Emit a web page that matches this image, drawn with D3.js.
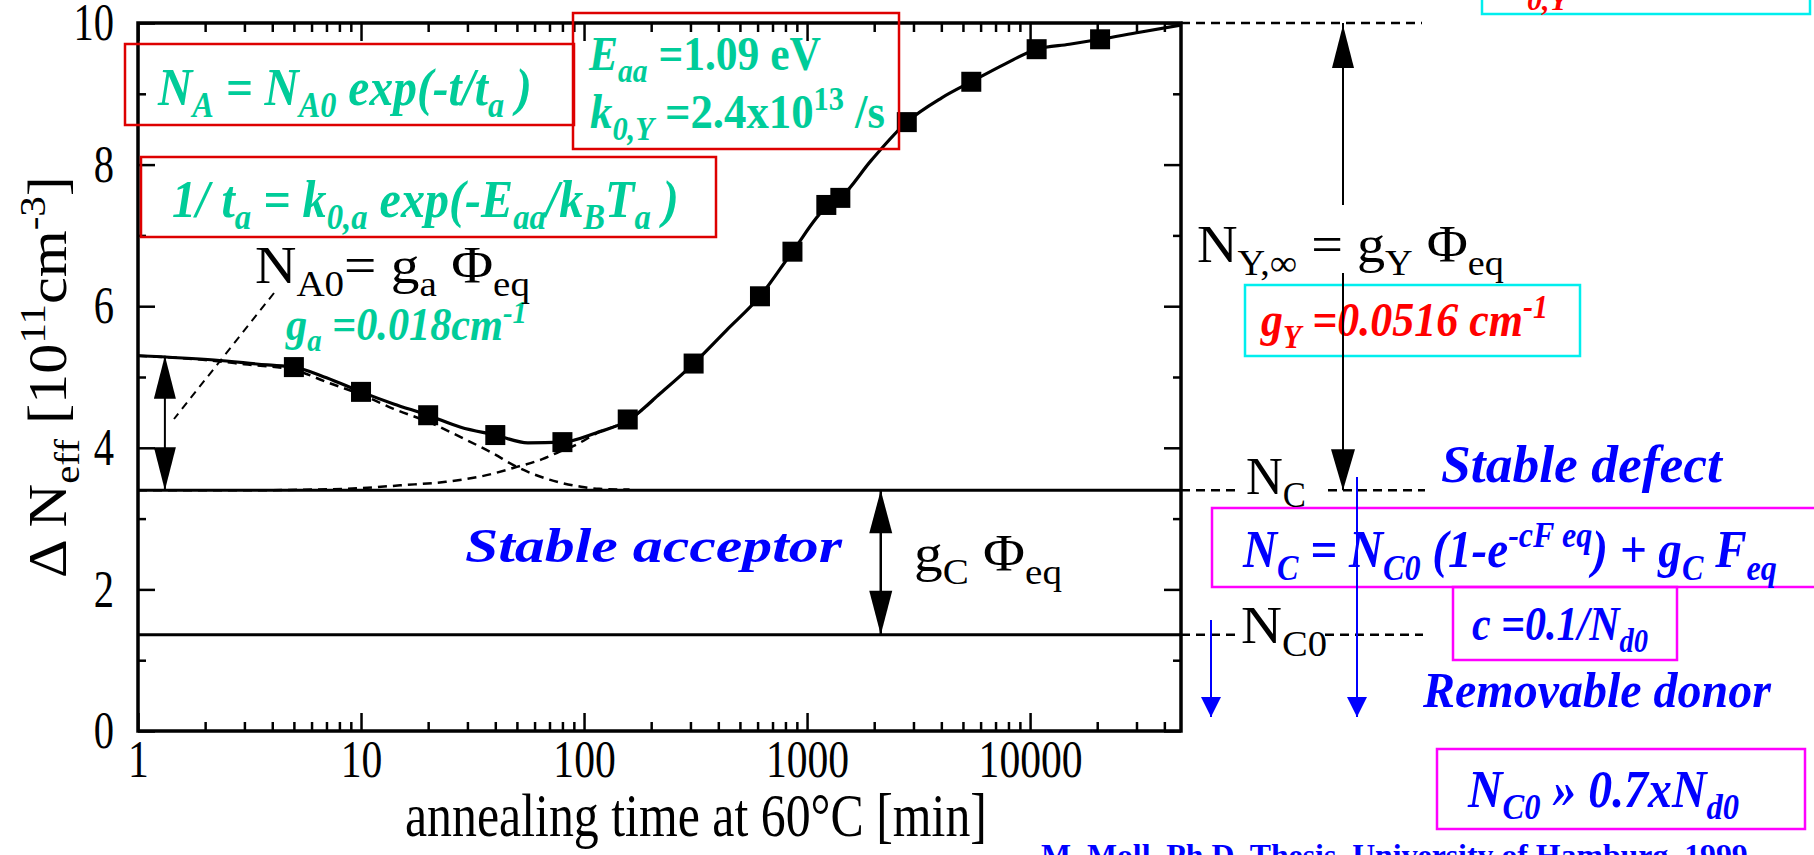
<!DOCTYPE html>
<html>
<head>
<meta charset="utf-8">
<script src="https://cdn.jsdelivr.net/npm/d3@7"></script>
<style>
    html, body { margin: 0; padding: 0; background: #fff; overflow: hidden; }
    svg text { white-space: pre; }
</style>
</head>
<body>
<div id="chart"></div>
<script>
// measured points, annealing at 60°C
const annealTime = [5, 10, 20, 40, 80, 157, 310, 615, 860, 1220, 1410, 2800, 5450, 10700, 20600];
const deltaNeff = [5.14, 4.79, 4.46, 4.18, 4.08, 4.40, 5.19, 6.14, 6.77, 7.43, 7.53, 8.60, 9.17, 9.63, 9.77];

// full fit (solid line)
const fitTime = [1, 2.2, 3.8, 5, 7, 10, 14, 20, 28, 40, 56, 80, 113, 160, 220, 310, 435, 615, 860, 1220, 1410, 1940, 2800, 4000, 5450, 7700, 10700, 15000, 20600, 31000, 47500];
const fitNeff = [5.30, 5.24, 5.17, 5.14, 4.99, 4.79, 4.62, 4.46, 4.29, 4.18, 4.07, 4.08, 4.21, 4.40, 4.77, 5.19, 5.66, 6.14, 6.77, 7.40, 7.53, 8.06, 8.60, 8.94, 9.17, 9.42, 9.63, 9.70, 9.77, 9.87, 9.97];

// short term annealing of acceptors (dashed)
const decayTime = [1, 2, 3, 5, 7, 10.6, 14, 20.3, 28, 38.6, 50, 70, 97, 117, 160];
const decayNeff = [5.30, 5.24, 5.18, 5.10, 4.93, 4.72, 4.55, 4.36, 4.15, 3.93, 3.73, 3.55, 3.45, 3.42, 3.41];

// reverse annealing build up (dashed)
const riseTime = [1, 3, 6, 10, 15, 24, 35, 50, 65, 77, 93, 113, 160, 220];
const riseNeff = [3.40, 3.40, 3.41, 3.43, 3.47, 3.52, 3.60, 3.73, 3.84, 3.94, 4.05, 4.20, 4.40, 4.77];

// levels
const levelNC = 3.40;
const levelNC0 = 1.36;
const levelYinf = 10;

const xTickValues = [1, 10, 100, 1000, 10000];
const xTickLabels = ["1", "10", "100", "1000", "10000"];
const yTickValues = [0, 2, 4, 6, 8, 10];
const yTickLabels = ["0", "2", "4", "6", "8", "10"];
const yMinorValues = [1, 3, 5, 7, 9];

const serif = "'Liberation Serif', 'Times New Roman', Times, serif";
const green = "#00cc99";
const blue = "#0000ff";
const red = "#ff0000";

class AnnealVis {

    constructor(parentElement) {
        this.parentElement = parentElement;
        this.initVis();
    }

    initVis() {
        let vis = this;

        vis.width = 1814;
        vis.height = 855;
        vis.plot = {left: 138, right: 1181, top: 23, bottom: 731};

        vis.svg = d3.select("#" + vis.parentElement).append("svg")
            .attr("width", vis.width)
            .attr("height", vis.height);

        vis.svg.append("rect")
            .attr("width", vis.width)
            .attr("height", vis.height)
            .attr("fill", "#fff");

        // log time axis, linear N_eff axis
        vis.x = d3.scaleLog().domain([1, 47500]).range([vis.plot.left, vis.plot.right]);
        vis.y = d3.scaleLinear().domain([0, 10]).range([vis.plot.bottom, vis.plot.top]);

        vis.drawAxes();
        vis.drawCurves();
        vis.drawAnnotations();
    }

    drawAxes() {
        let vis = this;

        let minorX = [];
        xTickValues.forEach(d => {
            for (let k = 2; k <= 9; k++) if (d * k < 47500) minorX.push(d * k);
        });

        let clean = g => {
            g.select(".domain").remove();
            g.selectAll("line").attr("stroke", "#000").attr("stroke-width", 2.5);
        };

        // bottom
        let xb = vis.svg.append("g")
            .attr("transform", `translate(0,${vis.plot.bottom})`)
            .call(d3.axisBottom(vis.x).tickValues(xTickValues).tickSizeInner(-18).tickSizeOuter(0)
                .tickPadding(9).tickFormat((d, i) => xTickLabels[i]))
            .call(clean);
        xb.attr("font-family", serif).attr("font-size", 52);
        xb.selectAll("text").attr("fill", "#000").attr("transform", "scale(0.8,1)");

        vis.svg.append("g")
            .attr("transform", `translate(0,${vis.plot.bottom})`)
            .call(d3.axisBottom(vis.x).tickValues(minorX).tickSizeInner(-9).tickSizeOuter(0).tickFormat(""))
            .call(clean);

        // top
        vis.svg.append("g")
            .attr("transform", `translate(0,${vis.plot.top})`)
            .call(d3.axisTop(vis.x).tickValues(xTickValues).tickSizeInner(-18).tickSizeOuter(0).tickFormat(""))
            .call(clean);
        vis.svg.append("g")
            .attr("transform", `translate(0,${vis.plot.top})`)
            .call(d3.axisTop(vis.x).tickValues(minorX).tickSizeInner(-9).tickSizeOuter(0).tickFormat(""))
            .call(clean);

        // left
        let yl = vis.svg.append("g")
            .attr("transform", `translate(${vis.plot.left},0)`)
            .call(d3.axisLeft(vis.y).tickValues(yTickValues).tickSizeInner(-17).tickSizeOuter(0)
                .tickFormat((d, i) => yTickLabels[i]))
            .call(clean);
        yl.attr("font-family", serif).attr("font-size", 52);
        yl.selectAll("text").attr("fill", "#000").attr("x", -24 / 0.78).attr("transform", "scale(0.78,1)");

        vis.svg.append("g")
            .attr("transform", `translate(${vis.plot.left},0)`)
            .call(d3.axisLeft(vis.y).tickValues(yMinorValues).tickSizeInner(-8).tickSizeOuter(0).tickFormat(""))
            .call(clean);

        // right
        vis.svg.append("g")
            .attr("transform", `translate(${vis.plot.right},0)`)
            .call(d3.axisRight(vis.y).tickValues(yTickValues).tickSizeInner(-17).tickSizeOuter(0).tickFormat(""))
            .call(clean);
        vis.svg.append("g")
            .attr("transform", `translate(${vis.plot.right},0)`)
            .call(d3.axisRight(vis.y).tickValues(yMinorValues).tickSizeInner(-8).tickSizeOuter(0).tickFormat(""))
            .call(clean);

        // frame
        vis.svg.append("rect")
            .attr("x", vis.plot.left)
            .attr("y", vis.plot.top)
            .attr("width", vis.plot.right - vis.plot.left)
            .attr("height", vis.plot.bottom - vis.plot.top)
            .attr("fill", "none")
            .attr("stroke", "#000")
            .attr("stroke-width", 3.5);

        // axis titles
        let yt = vis.svg.append("g").attr("transform", "translate(66,377) rotate(-90)");
        vis.richText(yt, [["Δ N"], ["eff", "sub"], [" [10"], ["11", "sup"], ["cm"], ["-3", "sup"], ["]"]],
            {x: -201, y: 0, size: 54, width: 402});

        vis.richText(vis.svg, [["annealing time at 60°C [min]"]],
            {x: 405, y: 836, size: 62, width: 582});
    }

    drawCurves() {
        let vis = this;

        let line = d3.line()
            .x(d => vis.x(d[0]))
            .y(d => vis.y(d[1]))
            .curve(d3.curveMonotoneX);

        let dom = vis.x.domain();

        // stable levels N_C and N_C0
        [levelNC, levelNC0].forEach(v => {
            vis.svg.append("path")
                .datum([[dom[0], v], [dom[1], v]])
                .attr("d", line)
                .attr("fill", "none")
                .attr("stroke", "#000")
                .attr("stroke-width", 3);
        });

        // dashed components
        [[decayTime, decayNeff], [riseTime, riseNeff]].forEach(([t, n]) => {
            vis.svg.append("path")
                .datum(d3.zip(t, n))
                .attr("d", line)
                .attr("fill", "none")
                .attr("stroke", "#000")
                .attr("stroke-width", 2.5)
                .attr("stroke-dasharray", "9,6");
        });

        // fit
        vis.svg.append("path")
            .datum(d3.zip(fitTime, fitNeff))
            .attr("d", line)
            .attr("fill", "none")
            .attr("stroke", "#000")
            .attr("stroke-width", 3.2);

        // data squares
        vis.svg.selectAll(".pt")
            .data(d3.zip(annealTime, deltaNeff))
            .enter()
            .append("rect")
            .attr("class", "pt")
            .attr("x", d => vis.x(d[0]) - 10)
            .attr("y", d => vis.y(d[1]) - 10)
            .attr("width", 20)
            .attr("height", 20)
            .attr("fill", "#000");
    }

    drawAnnotations() {
        let vis = this;
        let g = vis.svg.append("g");
        let bi = {weight: "bold", italic: true};
        let up = {"font-style": "normal"};

        // boxes
        vis.box(g, 125, 44, 574, 125, "#dd0000");
        vis.box(g, 573, 13, 899, 149, "#dd0000");
        vis.box(g, 141, 157, 716, 237, "#dd0000");
        vis.box(g, 1245, 285, 1580, 356, "#00eeee");
        vis.box(g, 1482, -20, 1810, 14, "#00eeee");
        vis.box(g, 1212, 508, 1840, 587, "#ff00ff");
        vis.box(g, 1453, 587, 1677, 660, "#ff00ff");
        vis.box(g, 1437, 749, 1805, 829, "#ff00ff");

        // green formulas
        vis.richText(g, [["N"], ["A", "sub"], [" = N"], ["A0", "sub"], [" exp(-t/t"], ["a", "sub"], [" )"]],
            Object.assign({x: 158, y: 105, size: 52, width: 374, fill: green}, bi));
        vis.richText(g, [["E"], ["aa", "sub"], [" =1.09 eV", "", up]],
            Object.assign({x: 589, y: 70, size: 48, width: 232, fill: green}, bi));
        vis.richText(g, [["k"], ["0,Y", "sub"], [" =2.4x10", "", up], ["13", "sup", up], [" /s", "", up]],
            Object.assign({x: 590, y: 128, size: 48, width: 295, fill: green}, bi));
        vis.richText(g, [["1/ t"], ["a", "sub"], [" = k"], ["0,a", "sub"], [" exp(-E"], ["aa", "sub"], ["/k"], ["B", "sub"], ["T"], ["a", "sub"], [" )"]],
            Object.assign({x: 172, y: 217, size: 52, width: 507, fill: green}, bi));
        vis.richText(g, [["g"], ["a", "sub"], [" =0.018cm"], ["-1", "sup"]],
            Object.assign({x: 286, y: 340, size: 46, width: 241, fill: green}, bi));

        // red
        vis.richText(g, [["g"], ["Y", "sub"], [" =0.0516 cm"], ["-1", "sup"]],
            Object.assign({x: 1261, y: 336, size: 48, width: 287, fill: red}, bi));
        vis.richText(g, [["0,Y"]], Object.assign({x: 1527, y: 10, size: 30, fill: red}, bi));

        // black labels
        vis.richText(g, [["N"], ["A0", "sub"], ["= g"], ["a", "sub"], [" Φ"], ["eq", "sub"]],
            {x: 255, y: 283, size: 53, width: 275});
        vis.richText(g, [["N"], ["Y,∞", "sub"], [" = g"], ["Y", "sub"], [" Φ"], ["eq", "sub"]],
            {x: 1197, y: 262, size: 53, width: 307});
        vis.richText(g, [["g"], ["C", "sub"], [" Φ"], ["eq", "sub"]],
            {x: 914, y: 571, size: 53, width: 148});
        vis.richText(g, [["N"], ["C", "sub"]], {x: 1246, y: 494, size: 53, width: 60});
        vis.richText(g, [["N"], ["C0", "sub"]], {x: 1241, y: 643, size: 53, width: 86});

        // blue
        vis.richText(g, [["Stable acceptor"]], Object.assign({x: 465, y: 562, size: 49, width: 377, fill: blue}, bi));
        vis.richText(g, [["Stable defect"]], Object.assign({x: 1441, y: 482, size: 52, width: 281, fill: blue}, bi));
        vis.richText(g, [["N"], ["C", "sub"], [" = N"], ["C0", "sub"], [" (1-e"], ["-cF eq", "sup"], [") + g"], ["C", "sub"], [" F"], ["eq", "sub"]],
            Object.assign({x: 1243, y: 567, size: 53, width: 534, fill: blue}, bi));
        vis.richText(g, [["c =0.1/N"], ["d0", "sub"]], Object.assign({x: 1472, y: 640, size: 48, width: 176, fill: blue}, bi));
        vis.richText(g, [["Removable donor"]], Object.assign({x: 1423, y: 707, size: 50, width: 348, fill: blue}, bi));
        vis.richText(g, [["N"], ["C0", "sub"], [" » 0.7xN"], ["d0", "sub"]],
            Object.assign({x: 1468, y: 807, size: 52, width: 271, fill: blue}, bi));
        vis.richText(g, [["M. Moll, Ph.D. Thesis, University of Hamburg, 1999"]],
            {x: 1041, y: 866, size: 32, width: 707, fill: blue, weight: "bold"});

        // left double arrow (N_A0)
        let xa = vis.x(1.32);
        vis.vline(g, xa, vis.y(fitNeff[0]), vis.y(levelNC), "#000", 2);
        vis.arrowHead(g, xa, vis.y(fitNeff[0]), -1, 22, 43, "#000");
        vis.arrowHead(g, xa, vis.y(levelNC), 1, 22, 43, "#000");

        // leader line
        g.append("line")
            .attr("x1", 274).attr("y1", 293).attr("x2", 174).attr("y2", 419)
            .attr("stroke", "#000").attr("stroke-width", 2).attr("stroke-dasharray", "8,6");

        // g_C arrow
        let xc = vis.x(2140);
        vis.vline(g, xc, vis.y(levelNC), vis.y(levelNC0), "#000", 2.5);
        vis.arrowHead(g, xc, vis.y(levelNC), -1, 23, 43, "#000");
        vis.arrowHead(g, xc, vis.y(levelNC0), 1, 23, 44, "#000");

        // right side dashed levels
        let R = vis.plot.right;
        [[levelYinf, [[R, 1422]]], [levelNC, [[R, 1237], [1328, 1425]]], [levelNC0, [[R, 1238], [1325, 1423]]]]
            .forEach(([v, segs]) => segs.forEach(s => {
                g.append("line")
                    .attr("x1", s[0]).attr("x2", s[1])
                    .attr("y1", vis.y(v)).attr("y2", vis.y(v))
                    .attr("stroke", "#000").attr("stroke-width", 2.5).attr("stroke-dasharray", "9,6");
            }));

        // N_Y,inf arrow
        let xy = R + 162;
        vis.vline(g, xy, vis.y(levelYinf), 205, "#000", 2);
        vis.vline(g, xy, 273, vis.y(levelNC), "#000", 2);
        vis.arrowHead(g, xy, vis.y(levelYinf) + 2, -1, 22, 43, "#000");
        vis.arrowHead(g, xy, vis.y(levelNC), 1, 24, 41, "#000");

        // blue arrows
        vis.vline(g, 1211, 620, 717, blue, 2);
        vis.arrowHead(g, 1211, 717, 1, 20, 20, blue);
        vis.vline(g, 1357, 477, 717, blue, 2);
        vis.arrowHead(g, 1357, 717, 1, 20, 20, blue);
    }

    box(g, x0, y0, x1, y1, color) {
        g.append("rect")
            .attr("x", x0).attr("y", y0)
            .attr("width", x1 - x0).attr("height", y1 - y0)
            .attr("fill", "none")
            .attr("stroke", color)
            .attr("stroke-width", 2.5);
    }

    vline(g, x, y0, y1, color, w) {
        g.append("line")
            .attr("x1", x).attr("x2", x).attr("y1", y0).attr("y2", y1)
            .attr("stroke", color).attr("stroke-width", w);
    }

    arrowHead(g, x, tip, dir, w, h, color) {
        let p = d3.path();
        p.moveTo(x, tip);
        p.lineTo(x - w / 2, tip - dir * h);
        p.lineTo(x + w / 2, tip - dir * h);
        p.closePath();
        g.append("path").attr("d", p.toString()).attr("fill", color);
    }

    // text with sub/superscripts, squeezed to the width seen in the picture
    richText(parent, segs, o) {
        let t = parent.append("text")
            .attr("font-family", serif)
            .attr("font-size", o.size)
            .attr("font-weight", o.weight || "normal")
            .attr("font-style", o.italic ? "italic" : "normal")
            .attr("fill", o.fill || "#000");
        let shift = 0;
        segs.forEach(s => {
            let kind = s[1] || "";
            let target = kind === "sub" ? o.size * 0.24 : kind === "sup" ? -o.size * 0.38 : 0;
            let ts = t.append("tspan").text(s[0]).attr("dy", target - shift);
            if (kind) ts.attr("font-size", o.size * 0.68);
            if (s[2]) Object.entries(s[2]).forEach(([k, v]) => ts.attr(k, v));
            shift = target;
        });
        let w = t.node().getComputedTextLength();
        let sx = o.width ? o.width / w : 1;
        t.attr("transform", `translate(${o.x},${o.y}) scale(${sx},1)`);
        return t;
    }
}

new AnnealVis("chart");
</script>
</body>
</html>
